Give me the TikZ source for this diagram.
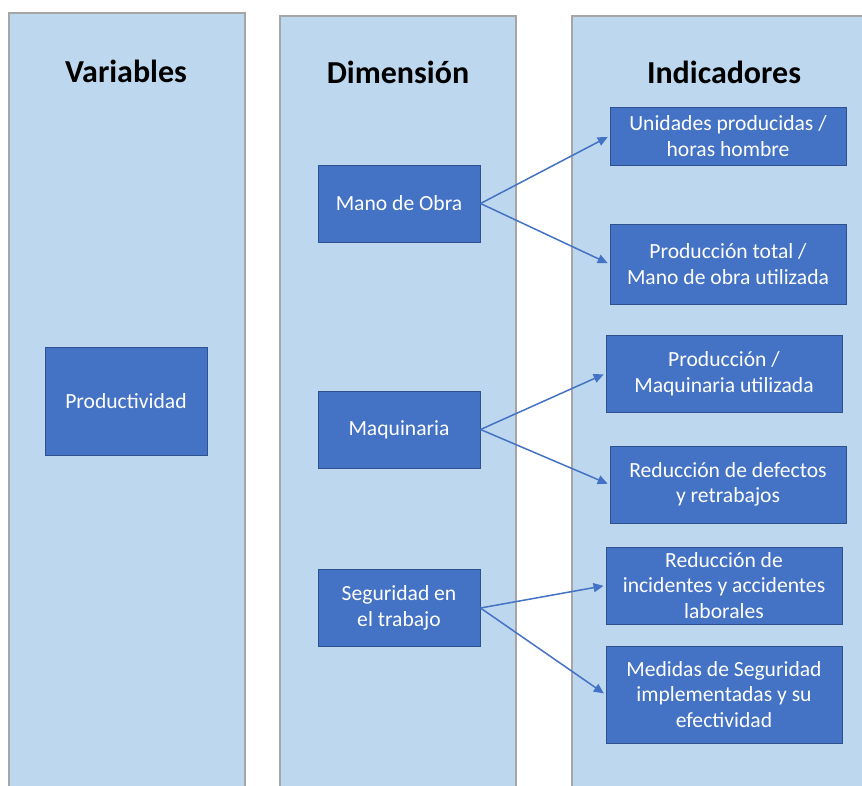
\documentclass[tikz,border=0pt]{standalone}
\usepackage{fontspec}
\setmainfont{Carlito}
\usepackage{tikz}
\usetikzlibrary{positioning,arrows.meta,calc}
\definecolor{colfondo}{HTML}{BDD7EE}
\definecolor{colborde}{HTML}{A6A6A6}
\definecolor{cajafondo}{HTML}{4472C4}
\definecolor{cajaborde}{HTML}{2F528F}
\tikzset{>={Triangle[length=10pt,width=9pt]}}
\tikzset{
  columna/.style={draw=colborde, fill=colfondo, line width=1.3pt},
  titulo/.style={font=\fontsize{32}{38}\selectfont\bfseries, inner sep=0},
  caja/.style={draw=cajaborde, fill=cajafondo, line width=1pt, text=white, align=center,
    font=\fontsize{21.6}{25.5}\selectfont, inner sep=0, minimum width=236pt},
  chica/.style={caja, minimum width=162pt},
  flecha/.style={->, draw=cajafondo, line width=1.5pt, shorten >=2pt}
}
\newcommand{\drawcaja}{\node[caja]}
\newcommand{\drawchica}{\node[chica]}

\begin{document}
\begin{tikzpicture}[x=1pt,y=-1pt]
	\useasboundingbox (0,0) rectangle (862,785);

	% columnas
	\draw[columna] (9,13) rectangle (245,800);
	\draw[columna] (280,16) rectangle (516,800);
	\draw[columna] (572,16) rectangle (890,800);

	\node[titulo] (tvar) at (126,71) {Variables};
	\node[titulo] (tdim) at (398,72) {Dimensión};
	\node[titulo] (tind) at (724,72) {Indicadores};

	% variable y dimensiones
	\drawchica[minimum height=108pt] (prod) at (126,401) {Productividad};
	\drawchica[minimum height=77pt] (mo) at (399,203.5) {Mano de Obra};
	\drawchica[minimum height=77pt] (maq) at (399,429.5) {Maquinaria};
	\drawchica[minimum height=77pt] (seg) at (399,608) {Seguridad en\\el trabajo};

	% indicadores
	\drawcaja[minimum height=58pt] (i1) at (728,136) {Unidades producidas /\\horas hombre};
	\drawcaja[minimum height=80pt] (i2) at (728,264) {Producción total /\\Mano de obra utilizada};
	\drawcaja[minimum height=77pt] (i3) at (724,373.5) {Producción /\\Maquinaria utilizada};
	\drawcaja[minimum height=77pt] (i4) at (728,484.5) {Reducción de defectos\\y retrabajos};
	\drawcaja[minimum height=77pt] (i5) at (724,585.5) {Reducción de\\incidentes y accidentes\\laborales};
	\drawcaja[minimum height=97pt] (i6) at (724,694.5) {Medidas de Seguridad\\implementadas y su\\efectividad};

	\draw[flecha] (mo.east) -- (i1.west);
	\draw[flecha] (mo.east) -- (i2.west);
	\draw[flecha] (maq.east) -- (i3.west);
	\draw[flecha] (maq.east) -- (i4.west);
	\draw[flecha] (seg.east) -- (i5.west);
	\draw[flecha] (seg.east) -- (i6.west);
\end{tikzpicture}
\end{document}
